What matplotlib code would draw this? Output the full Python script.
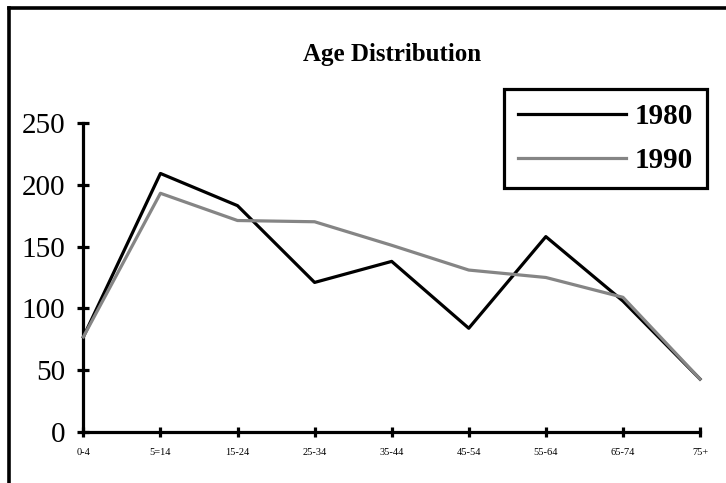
import matplotlib
matplotlib.use("Agg")
import matplotlib.pyplot as plt
from matplotlib.lines import Line2D

plt.rcParams['font.family'] = ['Liberation Serif', 'DejaVu Serif']

# age groups and counts per census year
age_groups = ['0-4', '5=14', '15-24', '25-34', '35-44', '45-54', '55-64', '65-74', '75+']
counts_1980 = [77, 209, 183, 121, 138, 84, 158, 106, 43]
counts_1990 = [77, 193, 171, 170, 151, 131, 125, 109, 43]
y_ticks = [0, 50, 100, 150, 200, 250]

fig = plt.figure(figsize=(7.26, 4.83), dpi=100)
ax = fig.add_axes([0.1148, 0.105, 0.8494, 0.641])

x = list(range(len(age_groups)))
ax.plot(x, counts_1980, color='black', lw=2.3, label='1980', clip_on=False, zorder=3)
ax.plot(x, counts_1990, color='#858585', lw=2.3, label='1990', clip_on=False, zorder=3)

ax.set_xlim(0, len(age_groups) - 1)
ax.set_ylim(0, 250)
ax.set_xticks(x)
ax.set_xticklabels(age_groups, fontsize=7.5)
ax.set_yticks(y_ticks)
ax.set_yticklabels([str(v) for v in y_ticks], fontsize=21)

for side in ['top', 'right']:
    ax.spines[side].set_visible(False)
for side in ['left', 'bottom']:
    ax.spines[side].set_linewidth(2.3)
ax.tick_params(axis='y', direction='inout', length=8, width=2.3, pad=9)
ax.tick_params(axis='x', direction='inout', length=7, width=2.3, pad=8)

ax.set_title('Age Distribution', fontsize=18, fontweight='bold', pad=0, y=1.2)

leg = ax.legend(loc='upper right', bbox_to_anchor=(1.0114, 1.109), borderaxespad=0,
                prop={'size': 21, 'weight': 'bold'}, handlelength=3.7,
                handletextpad=0.3, labelspacing=0.6, borderpad=0.48,
                fancybox=False, framealpha=1, edgecolor='black')
leg.get_frame().set_linewidth(2.3)

# outer frame along the left and top of the figure
fig.add_artist(Line2D([0.0128, 0.0128], [0, 0.984], color='black', lw=2.6, transform=fig.transFigure))
fig.add_artist(Line2D([0.0128, 1.0], [0.984, 0.984], color='black', lw=2.6, transform=fig.transFigure))

fig.savefig('out.png', dpi=100)
